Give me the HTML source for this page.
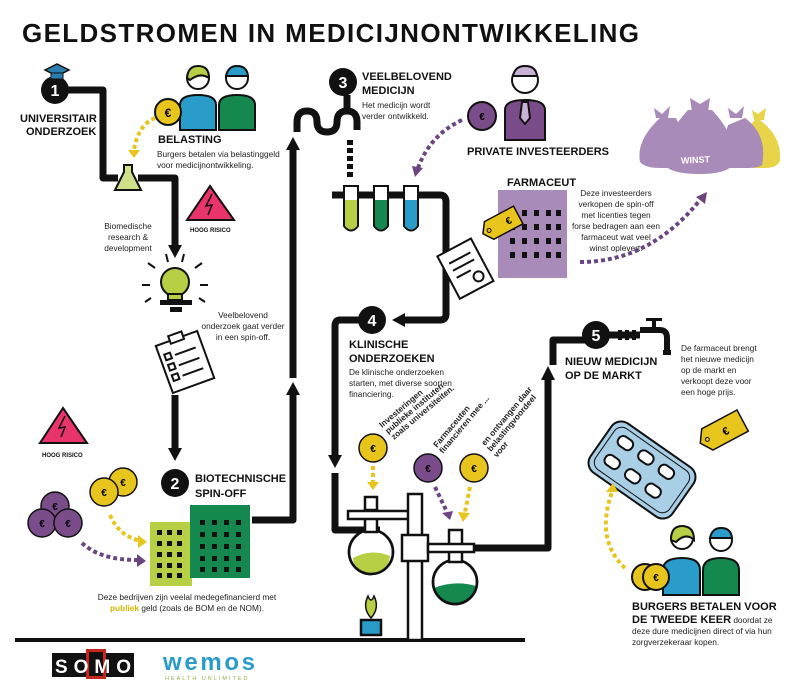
<!DOCTYPE html>
<html><head><meta charset="utf-8"><style>
html,body{margin:0;padding:0;background:#fff}
svg{display:block}
text{font-family:"Liberation Sans",sans-serif}
.h{font-weight:bold;font-size:11px;fill:#111}
.t{font-size:8.3px;fill:#222}
.r{font-weight:bold;font-size:6px;fill:#111}
</style></head><body>
<svg width="800" height="687" viewBox="0 0 800 687" xmlns="http://www.w3.org/2000/svg">
<text x="22" y="42" font-size="26" font-weight="bold" fill="#111" textLength="617">GELDSTROMEN IN MEDICIJNONTWIKKELING</text>

<g fill="none" stroke="#111" stroke-width="7" stroke-linejoin="round">
<path d="M60,90 H103 V178 H118"/>
<path d="M138,178 H175 V245"/>
<path d="M175,395 V448"/>
<path d="M252,520 H293 V395"/>
<path d="M293,378 V150"/>
<path d="M297,132 V122 Q297,111 307,111 Q317,111 317,122 Q317,132 327,132 Q337,132 337,122 Q337,111 347,111 Q357,111 357,122 V130"/>
<path d="M347,111 V95"/>
<path d="M332,195 H440 Q446,195 446,202 V314 Q446,320 440,320 H400"/>
<path d="M360,320 H340 Q335,320 335,326 V455"/>
<path d="M335,473 V530 H380"/>
<path d="M465,548 H548 V380"/>
<path d="M553,365 V340 H585"/>
<path d="M608,335 H640"/>
</g>
<path d="M168,245 L182,245 L175,258z" fill="#111"/>
<path d="M168,448 L182,448 L175,461z" fill="#111"/>
<path d="M286,395 L300,395 L293,382z" fill="#111"/>
<path d="M286,150 L300,150 L293,137z" fill="#111"/>
<path d="M405,313 L405,327 L392,320z" fill="#111"/>
<path d="M328,455 L342,455 L335,468z" fill="#111"/>
<path d="M541,380 L555,380 L548,366z" fill="#111"/>
<line x1="350" y1="140" x2="350" y2="180" stroke="#111" stroke-width="6" stroke-dasharray="5,3"/>
<line x1="15" y1="640" x2="525" y2="640" stroke="#111" stroke-width="4"/>

<g fill="#111"><circle cx="55" cy="90" r="14"/><circle cx="175" cy="483" r="14"/><circle cx="343" cy="82" r="14"/><circle cx="372" cy="320" r="14"/><circle cx="596" cy="335" r="14"/></g>
<g fill="#fff" font-weight="bold" font-size="16" text-anchor="middle"><text x="55" y="96">1</text><text x="175" y="489">2</text><text x="343" y="88">3</text><text x="372" y="326">4</text><text x="596" y="341">5</text></g>
<path d="M45,70 L57,64 L69,70 L57,76z" fill="#2a7fb0" stroke="#111" stroke-width="1.5"/><rect x="51" y="73" width="12" height="6" fill="#2a7fb0" stroke="#111"/>

<text class="h" x="20" y="122">UNIVERSITAIR</text><text class="h" x="26" y="135">ONDERZOEK</text>

<path d="M124,165 V172 L115,190 H141 L132,172 V165z" fill="#cfe08a" stroke="#111" stroke-width="2"/>
<text class="t" x="128" y="229" text-anchor="middle">Biomedische</text><text class="t" x="128" y="240" text-anchor="middle">research &amp;</text><text class="t" x="128" y="251" text-anchor="middle">development</text>

<g stroke="#111" stroke-width="2">
<path d="M180,130 V105 Q180,95 198,95 Q216,95 216,105 V130z" fill="#2a9cc9"/>
<circle cx="198" cy="78" r="11" fill="#fff"/><path d="M187,78 Q188,66 198,66 Q209,66 209,78 Q200,72 190,80z" fill="#b6cf45"/>
<path d="M219,130 V105 Q219,95 237,95 Q255,95 255,105 V130z" fill="#14884e"/>
<circle cx="237" cy="78" r="11" fill="#fff"/><path d="M226,76 Q228,66 237,66 Q247,66 248,76z" fill="#2a9cc9"/>
<circle cx="168" cy="112" r="13" fill="#e8c51c"/>
</g>
<text x="168" y="117" font-size="12" font-weight="bold" text-anchor="middle">€</text>
<path d="M155,118 Q138,125 134,150" fill="none" stroke="#e8c51c" stroke-width="4" stroke-dasharray="4,3"/><path d="M128,150 L140,150 L134,158z" fill="#e8c51c"/>
<text class="h" x="158" y="143">BELASTING</text>
<text class="t" x="157" y="157">Burgers betalen via belastinggeld</text><text class="t" x="157" y="168">voor medicijnontwikkeling.</text>

<g><path d="M210,186 L234,220 L187,220z" fill="#e8336b" stroke="#111" stroke-width="2"/><path d="M212,194 L206,206 L212,205 L208,215" stroke="#111" fill="none" stroke-width="1.5"/><text class="r" x="190" y="232">HOOG RISICO</text></g>
<g><path d="M63,408 L87,443 L40,443z" fill="#e8336b" stroke="#111" stroke-width="2"/><path d="M65,416 L59,428 L65,427 L61,437" stroke="#111" fill="none" stroke-width="1.5"/><text class="r" x="42" y="457">HOOG RISICO</text></g>

<g stroke="#111" stroke-width="2"><circle cx="175" cy="282" r="14" fill="#b6cf45"/><rect x="168" y="294" width="14" height="6" fill="#b6cf45"/></g>
<rect x="160" y="300" width="32" height="5" fill="#111"/><rect x="170" y="307" width="12" height="5" fill="#111"/>
<g stroke="#111" stroke-width="2"><line x1="155" y1="268" x2="148" y2="263"/><line x1="195" y1="268" x2="202" y2="263"/><line x1="150" y1="285" x2="142" y2="285"/><line x1="200" y1="285" x2="208" y2="285"/><line x1="168" y1="262" x2="166" y2="254"/><line x1="182" y1="262" x2="184" y2="254"/><line x1="151" y1="298" x2="145" y2="302"/><line x1="199" y1="298" x2="205" y2="302"/></g>
<text class="t" x="243" y="318" text-anchor="middle">Veelbelovend</text><text class="t" x="243" y="329" text-anchor="middle">onderzoek gaat verder</text><text class="t" x="243" y="340" text-anchor="middle">in een spin-off.</text>
<g transform="rotate(-20 185 362)" stroke="#111" stroke-width="2" fill="#fff"><rect x="163" y="337" width="44" height="50"/><rect x="178" y="332" width="14" height="8"/><line x1="178" y1="352" x2="200" y2="352"/><line x1="178" y1="363" x2="200" y2="363"/><line x1="178" y1="374" x2="200" y2="374"/><rect x="168" y="348" width="6" height="6"/><rect x="168" y="359" width="6" height="6"/><rect x="168" y="370" width="6" height="6"/></g>

<text class="h" x="195" y="482" font-size="12">BIOTECHNISCHE</text><text class="h" x="195" y="497" font-size="12">SPIN-OFF</text>
<rect x="150" y="522" width="42" height="64" fill="#b6cf45"/>
<rect x="190" y="505" width="60" height="73" fill="#14884e"/>
<g fill="#111">
<rect x="157" y="530" width="5" height="5"/><rect x="167" y="530" width="5" height="5"/><rect x="177" y="530" width="5" height="5"/>
<rect x="157" y="541" width="5" height="5"/><rect x="167" y="541" width="5" height="5"/><rect x="177" y="541" width="5" height="5"/>
<rect x="157" y="552" width="5" height="5"/><rect x="167" y="552" width="5" height="5"/><rect x="177" y="552" width="5" height="5"/>
<rect x="157" y="563" width="5" height="5"/><rect x="167" y="563" width="5" height="5"/><rect x="177" y="563" width="5" height="5"/>
<rect x="157" y="573" width="5" height="5"/><rect x="167" y="573" width="5" height="5"/><rect x="177" y="573" width="5" height="5"/>
<rect x="200" y="520" width="5" height="5"/><rect x="212" y="520" width="5" height="5"/><rect x="224" y="520" width="5" height="5"/><rect x="236" y="520" width="5" height="5"/>
<rect x="200" y="532" width="5" height="5"/><rect x="212" y="532" width="5" height="5"/><rect x="224" y="532" width="5" height="5"/><rect x="236" y="532" width="5" height="5"/>
<rect x="200" y="544" width="5" height="5"/><rect x="212" y="544" width="5" height="5"/><rect x="224" y="544" width="5" height="5"/><rect x="236" y="544" width="5" height="5"/>
<rect x="200" y="556" width="5" height="5"/><rect x="212" y="556" width="5" height="5"/><rect x="224" y="556" width="5" height="5"/><rect x="236" y="556" width="5" height="5"/>
<rect x="200" y="567" width="5" height="5"/><rect x="212" y="567" width="5" height="5"/><rect x="224" y="567" width="5" height="5"/><rect x="236" y="567" width="5" height="5"/>
</g>
<g stroke="#111" stroke-width="1.5">
<circle cx="55" cy="506" r="14" fill="#7a4d8a"/><circle cx="42" cy="523" r="14" fill="#7a4d8a"/><circle cx="68" cy="523" r="14" fill="#7a4d8a"/>
<circle cx="123" cy="482" r="14" fill="#e8c51c"/><circle cx="104" cy="492" r="14" fill="#e8c51c"/>
</g>
<g font-size="10" font-weight="bold" text-anchor="middle"><text x="55" y="510">€</text><text x="42" y="527">€</text><text x="68" y="527">€</text><text x="123" y="486">€</text><text x="104" y="496">€</text></g>
<path d="M110,515 Q118,535 140,541" fill="none" stroke="#e8c51c" stroke-width="4" stroke-dasharray="4,3"/><path d="M138,535 L147,542 L138,548z" fill="#e8c51c"/>
<path d="M82,543 Q100,560 138,560" fill="none" stroke="#6b4580" stroke-width="4" stroke-dasharray="4,3"/><path d="M137,554 L146,561 L137,567z" fill="#6b4580"/>
<text class="t" x="187" y="600" text-anchor="middle">Deze bedrijven zijn veelal medegefinancierd met</text>
<text class="t" x="187" y="611" text-anchor="middle"><tspan fill="#d4b800" font-weight="bold">publiek</tspan> geld (zoals de BOM en de NOM).</text>

<text class="h" x="362" y="80">VEELBELOVEND</text><text class="h" x="362" y="94">MEDICIJN</text>
<text class="t" x="362" y="108">Het medicijn wordt</text><text class="t" x="362" y="119">verder ontwikkeld.</text>
<g stroke="#111" stroke-width="2">
<path d="M344,186 V226 Q351,235 358,226 V186z" fill="#fff"/><path d="M345,200 V226 Q351,233 357,226 V200z" fill="#b6cf45" stroke="none"/>
<path d="M374,186 V226 Q381,235 388,226 V186z" fill="#fff"/><path d="M375,200 V226 Q381,233 387,226 V200z" fill="#14884e" stroke="none"/>
<path d="M404,186 V226 Q411,235 418,226 V186z" fill="#fff"/><path d="M405,200 V226 Q411,233 417,226 V200z" fill="#2a9cc9" stroke="none"/>
</g>

<g stroke="#111" stroke-width="2">
<circle cx="482" cy="116" r="14" fill="#7a4d8a"/>
<path d="M505,140 V110 Q505,100 525,100 Q545,100 545,110 V140z" fill="#7a4d8a"/>
<circle cx="525" cy="80" r="13" fill="#fff"/><path d="M513,76 Q515,66 525,66 Q536,66 537,76z" fill="#c7b2d6"/>
<path d="M522,102 L528,102 L530,118 L525,124 L520,118z" fill="#c7b2d6"/>
</g>
<text x="482" y="120" font-size="10" font-weight="bold" text-anchor="middle">€</text>
<text class="h" x="467" y="155" font-size="10">PRIVATE INVESTEERDERS</text>
<path d="M462,120 Q430,135 418,168" fill="none" stroke="#6b4580" stroke-width="4" stroke-dasharray="4,3"/><path d="M412,166 L423,168 L415,177z" fill="#6b4580"/>

<!-- winst bags -->
<g fill="#a88bb8">
<path d="M757,118 Q782,135 780,160 Q778,168 765,168 H752 Q742,150 745,130z" fill="#e8d448"/>
<path d="M745,118 Q768,135 762,165 Q758,168 745,168 H728 Q720,150 728,125z"/>
<path d="M660,118 Q636,140 640,162 Q645,168 660,168 H680 Q688,140 676,118z"/>
<path d="M688,110 Q660,140 668,168 Q676,174 700,174 Q724,174 732,166 Q740,140 712,110z"/>
<path d="M654,108 L662,114 L670,106 L668,118 H656z"/>
<path d="M690,98 L700,104 L710,98 L708,112 H692z"/>
<path d="M728,108 L736,114 L744,106 L742,118 H730z"/>
<path d="M752,110 L758,114 L766,108 L764,120 H754z" fill="#e8d448"/>
</g>
<text x="681" y="163" fill="#fff" font-size="9" font-weight="bold" transform="rotate(-3 695 160)">WINST</text>

<text class="h" x="507" y="186" font-size="8">FARMACEUT</text>
<rect x="498" y="190" width="69" height="88" fill="#a88bb8"/>
<g fill="#111">
<rect x="510" y="210" width="5" height="6"/><rect x="522" y="210" width="5" height="6"/><rect x="534" y="210" width="5" height="6"/><rect x="546" y="210" width="5" height="6"/><rect x="556" y="210" width="5" height="6"/>
<rect x="510" y="224" width="5" height="6"/><rect x="522" y="224" width="5" height="6"/><rect x="534" y="224" width="5" height="6"/><rect x="546" y="224" width="5" height="6"/><rect x="556" y="224" width="5" height="6"/>
<rect x="510" y="238" width="5" height="6"/><rect x="522" y="238" width="5" height="6"/><rect x="534" y="238" width="5" height="6"/><rect x="546" y="238" width="5" height="6"/><rect x="556" y="238" width="5" height="6"/>
<rect x="510" y="252" width="5" height="6"/><rect x="522" y="252" width="5" height="6"/><rect x="534" y="252" width="5" height="6"/><rect x="546" y="252" width="5" height="6"/><rect x="556" y="252" width="5" height="6"/>
</g>
<g transform="rotate(-28 505 222)"><path d="M487,212 L520,212 L520,232 L487,232 L480,222z" fill="#e8c51c" stroke="#111" stroke-width="1.5"/><circle cx="487" cy="222" r="2" fill="none" stroke="#111"/><text x="506" y="226" font-size="10" font-weight="bold">€</text></g>
<g transform="rotate(-28 465 270)" stroke="#111" stroke-width="2" fill="#fff"><rect x="447" y="245" width="38" height="48"/><line x1="454" y1="257" x2="478" y2="257"/><line x1="454" y1="265" x2="478" y2="265"/><line x1="454" y1="273" x2="470" y2="273"/><circle cx="474" cy="282" r="5"/></g>
<g class="t" text-anchor="middle"><text x="616" y="196">Deze investeerders</text><text x="616" y="207">verkopen de spin-off</text><text x="616" y="218">met licenties tegen</text><text x="616" y="229">forse bedragen aan een</text><text x="616" y="240">farmaceut wat veel</text><text x="616" y="251">winst oplevert.</text></g>
<path d="M580,262 Q650,262 700,200" fill="none" stroke="#6b4580" stroke-width="4" stroke-dasharray="4,3"/><path d="M696,197 L707,192 L705,204z" fill="#6b4580"/>

<text class="h" x="349" y="348">KLINISCHE</text><text class="h" x="349" y="362">ONDERZOEKEN</text>
<text class="t" x="349" y="375">De klinische onderzoeken</text><text class="t" x="349" y="386">starten, met diverse soorten</text><text class="t" x="349" y="397">financiering.</text>
<g class="t" font-weight="bold" font-size="7.5">
<text transform="translate(382,428) rotate(-40)">Investeringen</text><text transform="translate(388,434) rotate(-40)">publieke instituten</text><text transform="translate(394,440) rotate(-40)">zoals universiteiten.</text>
<text transform="translate(437,448) rotate(-50)">Farmaceuten</text><text transform="translate(443,454) rotate(-50)">financieren mee ...</text>
<text transform="translate(485,446) rotate(-50)">en ontvangen daar</text><text transform="translate(491,452) rotate(-50)">belastingvoordeel</text><text transform="translate(497,458) rotate(-50)">voor</text>
</g>
<g stroke="#111" stroke-width="1.5"><circle cx="373" cy="448" r="14" fill="#e8c51c"/><circle cx="428" cy="468" r="14" fill="#7a4d8a"/><circle cx="474" cy="468" r="14" fill="#e8c51c"/></g>
<g font-size="10" font-weight="bold" text-anchor="middle"><text x="373" y="452">€</text><text x="428" y="472">€</text><text x="474" y="472">€</text></g>
<line x1="373" y1="466" x2="373" y2="482" stroke="#e8c51c" stroke-width="4" stroke-dasharray="4,3"/><path d="M367,482 L379,482 L373,490z" fill="#e8c51c"/>
<line x1="435" y1="487" x2="447" y2="512" stroke="#6b4580" stroke-width="4" stroke-dasharray="4,3"/><path d="M442,513 L453,511 L450,520z" fill="#6b4580"/>
<line x1="470" y1="487" x2="465" y2="512" stroke="#e8c51c" stroke-width="4" stroke-dasharray="4,3"/><path d="M458,512 L470,513 L463,522z" fill="#e8c51c"/>

<g stroke="#111" stroke-width="2.5" fill="#fff">
<circle cx="371" cy="552" r="22"/><path d="M353,558 Q371,548 390,556 Q388,572 371,574 Q354,572 353,558z" fill="#b6cf45" stroke="none"/><circle cx="371" cy="552" r="22" fill="none"/>
<rect x="365" y="497" width="12" height="14"/><rect x="365" y="510" width="12" height="22"/>
<rect x="348" y="511" width="64" height="8"/>
<rect x="408" y="494" width="14" height="146"/>
<rect x="402" y="535" width="26" height="26"/>
<circle cx="455" cy="582" r="22"/><path d="M434,588 Q455,580 476,586 Q474,602 455,604 Q436,602 434,588z" fill="#14884e" stroke="none"/><circle cx="455" cy="582" r="22" fill="none"/>
<rect x="449" y="530" width="13" height="32"/>
<rect x="428" y="544" width="46" height="8"/>
<rect x="361" y="620" width="20" height="15" fill="#2a9cc9"/>
</g>
<path d="M371,618 Q362,608 368,596 Q371,604 374,596 Q380,608 371,618z" fill="#b6cf45" stroke="#111" stroke-width="1.5"/>

<g fill="#111"><rect x="618" y="330" width="4" height="10"/><rect x="625" y="330" width="4" height="10"/><rect x="632" y="330" width="4" height="10"/></g>
<path d="M640,330 H660 Q667,330 667,338 V350" fill="none" stroke="#111" stroke-width="6"/><rect x="663" y="350" width="8" height="5" fill="#111"/><rect x="652" y="320" width="4" height="8" fill="#111"/><rect x="646" y="318" width="16" height="3" fill="#111"/>
<text class="h" x="565" y="365">NIEUW MEDICIJN</text><text class="h" x="565" y="379">OP DE MARKT</text>
<g class="t"><text x="681" y="351">De farmaceut brengt</text><text x="681" y="362">het nieuwe medicijn</text><text x="681" y="373">op de markt en</text><text x="681" y="384">verkoopt deze voor</text><text x="681" y="395">een hoge prijs.</text></g>
<g transform="rotate(35 642 470)" stroke="#111" stroke-width="2">
<rect x="592" y="440" width="100" height="60" rx="12" fill="#a9cfe6"/>
<rect x="597" y="445" width="90" height="50" rx="9" fill="none" stroke-width="1"/>
<g fill="#fff"><rect x="605" y="452" width="16" height="11" rx="5"/><rect x="630" y="452" width="16" height="11" rx="5"/><rect x="655" y="452" width="16" height="11" rx="5"/><rect x="605" y="475" width="16" height="11" rx="5"/><rect x="630" y="475" width="16" height="11" rx="5"/><rect x="655" y="475" width="16" height="11" rx="5"/></g>
</g>
<g transform="rotate(-28 725 430)"><path d="M705,418 L745,418 L745,442 L705,442 L697,430z" fill="#e8c51c" stroke="#111" stroke-width="1.5"/><circle cx="705" cy="430" r="2" fill="none" stroke="#111"/><text x="722" y="435" font-size="11" font-weight="bold">€</text></g>
<path d="M625,568 Q595,540 612,492" fill="none" stroke="#e8c51c" stroke-width="4" stroke-dasharray="4,3"/><path d="M606,492 L618,492 L613,483z" fill="#e8c51c"/>
<g stroke="#111" stroke-width="2">
<path d="M663,595 V570 Q663,558 682,558 Q700,558 700,570 V595z" fill="#2a9cc9"/>
<circle cx="682" cy="538" r="11" fill="#fff"/><path d="M671,540 Q671,526 682,526 Q694,526 694,540 Q686,532 676,542z" fill="#b6cf45"/>
<path d="M703,595 V570 Q703,558 721,558 Q739,558 739,570 V595z" fill="#14884e"/>
<circle cx="721" cy="540" r="11" fill="#fff"/><path d="M710,538 Q712,528 721,528 Q731,528 732,538z" fill="#2a9cc9"/>
<circle cx="645" cy="577" r="13" fill="#e8c51c"/><circle cx="656" cy="577" r="13" fill="#e8c51c"/>
</g>
<text x="656" y="581" font-size="10" font-weight="bold" text-anchor="middle">€</text>
<text class="h" x="632" y="610">BURGERS BETALEN VOOR</text>
<text x="632" y="623"><tspan class="h">DE TWEEDE KEER</tspan><tspan class="t"> doordat ze</tspan></text>
<text class="t" x="632" y="634">deze dure medicijnen direct of via hun</text><text class="t" x="632" y="645">zorgverzekeraar kopen.</text>

<rect x="52" y="653" width="82" height="24" fill="#111"/><rect x="86" y="649" width="20" height="30" fill="#c8261c"/><rect x="89" y="652" width="14" height="24" fill="#111"/>
<text x="55" y="673" fill="#fff" font-size="19" font-weight="bold" textLength="76">SOMO</text>
<text x="163" y="670" fill="#2a9cc9" font-size="24" font-weight="bold" textLength="92">wemos</text>
<text x="165" y="680" fill="#8fb04a" font-size="5.5" letter-spacing="2">HEALTH UNLIMITED</text>
</svg>
</body></html>
